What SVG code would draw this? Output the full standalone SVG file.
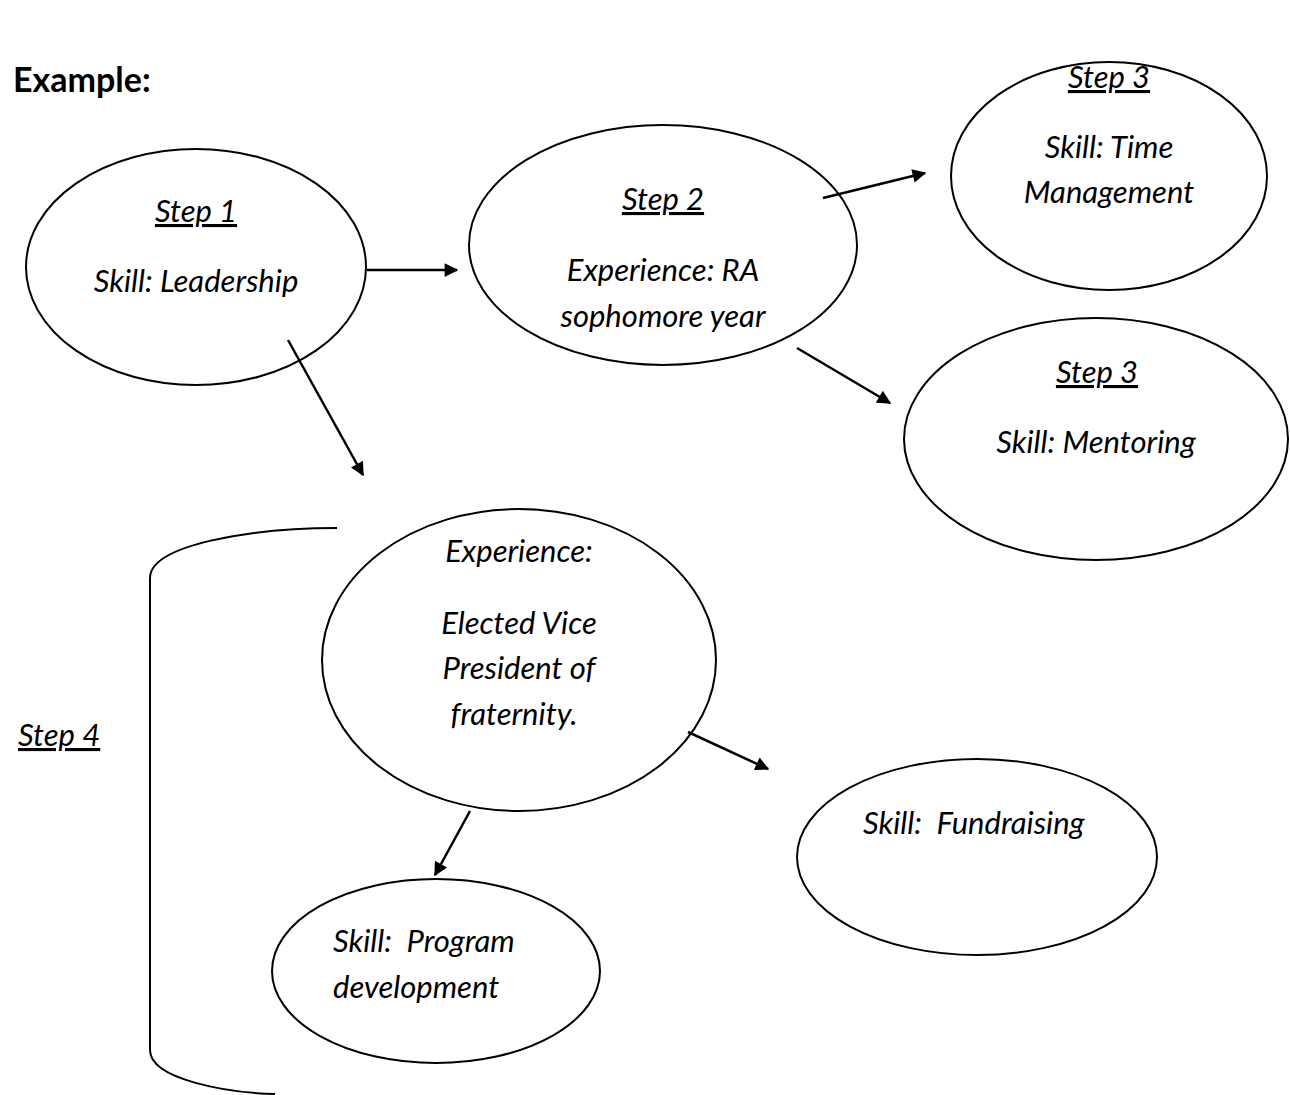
<svg xmlns="http://www.w3.org/2000/svg" width="1290" height="1095" viewBox="0 0 1290 1095">
<style>
.n{fill:#fff;stroke:#000;stroke-width:2}
.t{font-family:Lato,"Open Sans","Liberation Sans",sans-serif;font-style:italic;font-size:31px;fill:#000}
.c{text-anchor:middle}
.u{text-decoration:underline}
.e{stroke:#000;stroke-width:2.5;fill:none;marker-end:url(#ah)}
</style>
<defs>
<marker id="ah" viewBox="0 0 10 10" refX="9" refY="5" markerWidth="6" markerHeight="5.5" orient="auto" markerUnits="strokeWidth">
<path d="M0,0 L10,5 L0,10 z" fill="#000"/>
</marker>
</defs>
<rect width="1290" height="1095" fill="#fff"/>
<text x="13" y="92" style="font-family:Lato,'Open Sans','Liberation Sans',sans-serif;font-weight:bold;font-size:34px">Example:</text>
<g id="step1">
<ellipse class="n" cx="196" cy="267" rx="170" ry="118"/>
<text class="t c u" x="196" y="222">Step 1</text>
<text class="t c" x="196" y="292">Skill: Leadership</text>
</g>
<g id="step2">
<ellipse class="n" cx="663" cy="245" rx="194" ry="120"/>
<text class="t c u" x="663" y="210">Step 2</text>
<text class="t c" x="663" y="281">Experience: RA</text>
<text class="t c" x="663" y="327">sophomore year</text>
</g>
<g id="step3a">
<ellipse class="n" cx="1109" cy="176" rx="158" ry="114"/>
<text class="t c u" x="1109" y="88">Step 3</text>
<text class="t c" x="1109" y="158">Skill: Time</text>
<text class="t c" x="1109" y="203">Management</text>
</g>
<g id="step3b">
<ellipse class="n" cx="1096" cy="439" rx="192" ry="121"/>
<text class="t c u" x="1097" y="383">Step 3</text>
<text class="t c" x="1096" y="453">Skill: Mentoring</text>
</g>
<g id="experience">
<ellipse class="n" cx="519" cy="660" rx="197" ry="151"/>
<text class="t c" x="519" y="562">Experience:</text>
<text class="t c" x="519" y="634">Elected Vice</text>
<text class="t c" x="519" y="679">President of</text>
<text class="t c" x="514" y="725">fraternity.</text>
</g>
<g id="fundraising">
<ellipse class="n" cx="977" cy="857" rx="180" ry="98"/>
<text class="t" x="863" y="834" xml:space="preserve">Skill:  Fundraising</text>
</g>
<g id="program">
<ellipse class="n" cx="436" cy="971" rx="164" ry="92"/>
<text class="t" x="333" y="952" xml:space="preserve">Skill:  Program</text>
<text class="t" x="333" y="998">development</text>
</g>
<g id="step4">
<path d="M337,528 C250,528 150,545 150,578 L150,1050 C150,1080 230,1093 275,1094" fill="none" stroke="#000" stroke-width="2"/>
<text class="t u" x="18" y="746">Step 4</text>
</g>
<g id="connectors">
<line class="e" x1="367" y1="270" x2="457" y2="270"/>
<line class="e" x1="288" y1="340" x2="363" y2="475"/>
<line class="e" x1="823" y1="198" x2="925" y2="173"/>
<line class="e" x1="797" y1="348" x2="890" y2="403"/>
<line class="e" x1="688" y1="732" x2="768" y2="769"/>
<line class="e" x1="470" y1="811" x2="435" y2="875"/>
</g>
</svg>
